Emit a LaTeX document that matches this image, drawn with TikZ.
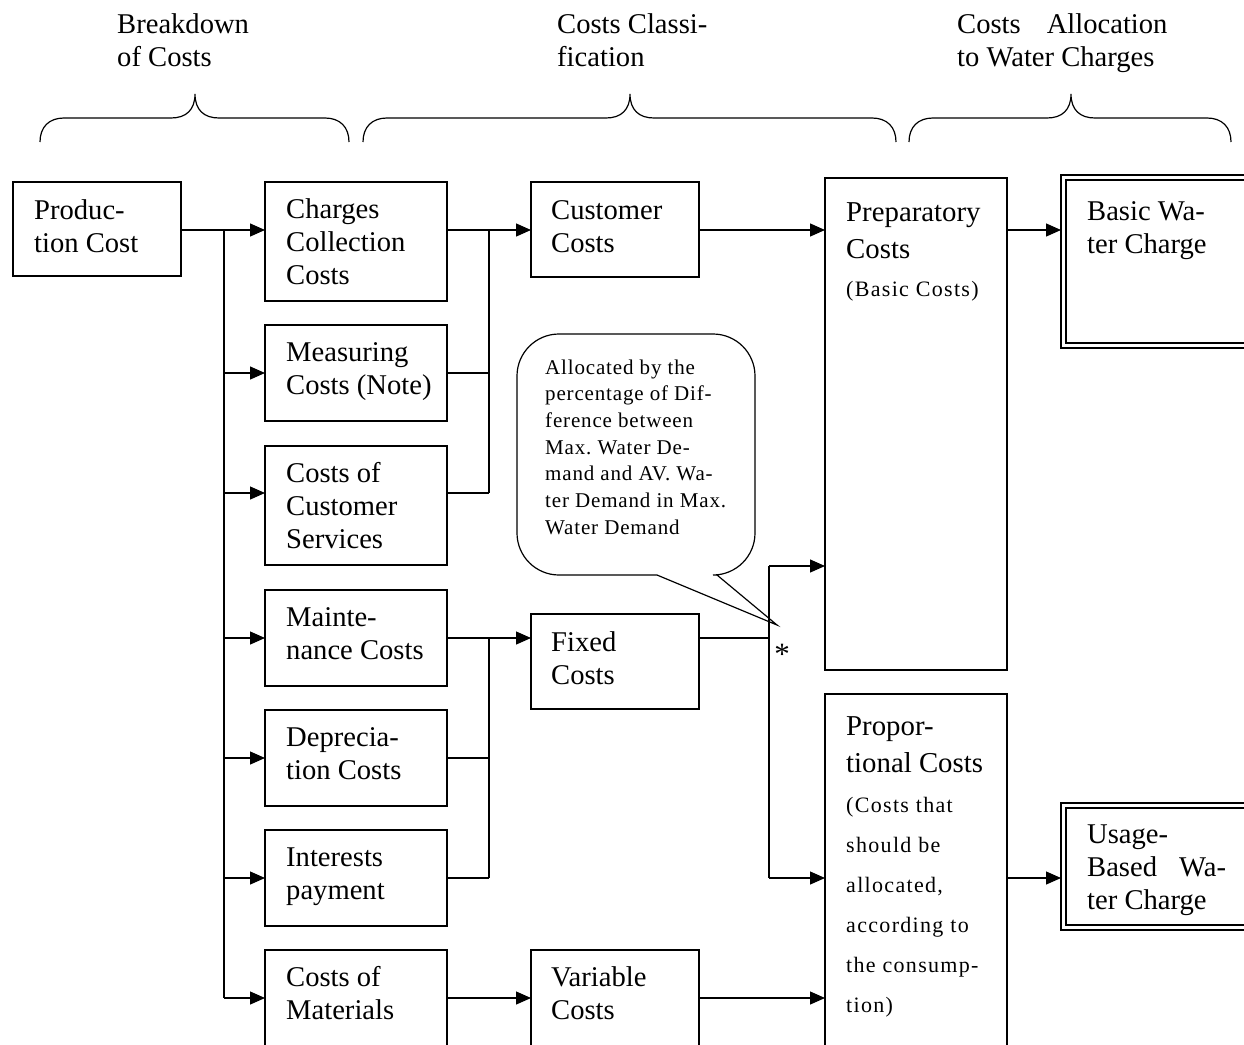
\documentclass[tikz,border=0pt]{standalone}
\usepackage{fontspec}
\setmainfont{Liberation Serif}
\newfontfamily\spacedserif[LetterSpace=6]{Liberation Serif}
\newfontfamily\notefont[LetterSpace=4]{Liberation Serif}
\usetikzlibrary{arrows.meta}
\frenchspacing

% curly brace over a group of columns: left end, tip, right end
\newcommand\costbrace[3]{%
  \draw[bracel] (#1,142) .. controls (#1,127) and (#1+9,118) .. (#1+24,118)
    -- (#2-24,118) .. controls (#2-9,118) and (#2,110) .. (#2,94)
    .. controls (#2,110) and (#2+9,118) .. (#2+24,118)
    -- (#3-24,118) .. controls (#3-9,118) and (#3,127) .. (#3,142);}

% multi-line texts are placed by the baseline of their last line
\tikzset{
  bracel/.style={line width=1.2pt},
  ln/.style={line width=1.3pt},
  arr/.style={line width=1.3pt, -{Triangle[length=15pt,width=13pt]}},
  box/.style={draw, line width=1.3pt, anchor=north west, inner sep=0pt, outer sep=0pt},
  dbox/.style={draw, line width=2.2pt, anchor=north west, inner sep=0pt, outer sep=0pt},
  txt/.style={anchor=base west, align=left, inner sep=0pt,
    font=\fontsize{28.6pt}{33pt}\selectfont},
  tallt/.style={txt, font=\fontsize{28.8pt}{37.5pt}\selectfont},
  smallt/.style={anchor=base west, align=left, inner sep=0pt,
    font=\spacedserif\fontsize{22pt}{40pt}\selectfont},
  notet/.style={anchor=base west, align=left, inner sep=0pt,
    font=\notefont\fontsize{21pt}{26.7pt}\selectfont},
}

\begin{document}
\begin{tikzpicture}[x=1pt,y=-1pt]
\useasboundingbox (0,0) rectangle (1244,1044);
\clip (0,0) rectangle (1244,1044);

% column headings
\node[txt] (h1) at (117,66) {Breakdown\\of Costs};
\node[txt] (h2) at (557,66) {Costs Classi-\\fication};
\node[txt] (h3) at (957,66) {Costs\hspace{26pt}Allocation\\to Water Charges};
\costbrace{40}{195}{349}
\costbrace{363}{630}{896}
\costbrace{909}{1071}{1231}

% boxes
\node[box, minimum width=168pt, minimum height=94pt]  (pc) at (13,182) {};
\node[box, minimum width=182pt, minimum height=119pt] (cc) at (265,182) {};
\node[box, minimum width=182pt, minimum height=96pt]  (mc) at (265,325) {};
\node[box, minimum width=182pt, minimum height=119pt] (cs) at (265,446) {};
\node[box, minimum width=182pt, minimum height=96pt]  (mn) at (265,590) {};
\node[box, minimum width=182pt, minimum height=96pt]  (dp) at (265,710) {};
\node[box, minimum width=182pt, minimum height=96pt]  (ip) at (265,830) {};
\node[box, minimum width=182pt, minimum height=96pt]  (cm) at (265,950) {};
\node[box, minimum width=168pt, minimum height=95pt]  (cu) at (531,182) {};
\node[box, minimum width=168pt, minimum height=95pt]  (fx) at (531,614) {};
\node[box, minimum width=168pt, minimum height=96pt]  (vc) at (531,950) {};
\node[box, minimum width=182pt, minimum height=492pt] (pr) at (825,178) {};
\node[box, minimum width=182pt, minimum height=380pt] (po) at (825,694) {};
\node[dbox, minimum width=200pt, minimum height=173pt] (bw) at (1061,175) {};
\node[dbox, minimum width=200pt, minimum height=127pt] (uw) at (1061,803) {};
\draw[line width=1.1pt] ([shift={(5,5)}]bw.north west) rectangle ([shift={(-5,-5)}]bw.south east);
\draw[line width=1.1pt] ([shift={(5,5)}]uw.north west) rectangle ([shift={(-5,-5)}]uw.south east);

% box texts
\node[txt] (pct) at ([shift={(21,70)}]pc.north west) {Produc-\\tion Cost};
\node[txt] (cct) at ([shift={(21,102)}]cc.north west) {Charges\\Collection\\Costs};
\node[txt] (mct) at ([shift={(21,69)}]mc.north west) {Measuring\\Costs (Note)};
\node[txt] (cst) at ([shift={(21,102)}]cs.north west) {Costs of\\Customer\\Services};
\node[txt] (mnt) at ([shift={(21,69)}]mn.north west) {Mainte-\\nance Costs};
\node[txt] (dpt) at ([shift={(21,69)}]dp.north west) {Deprecia-\\tion Costs};
\node[txt] (ipt) at ([shift={(21,69)}]ip.north west) {Interests\\payment};
\node[txt] (cmt) at ([shift={(21,69)}]cm.north west) {Costs of\\Materials};
\node[txt] (cut) at ([shift={(20,70)}]cu.north west) {Customer\\Costs};
\node[txt] (fxt) at ([shift={(20,70)}]fx.north west) {Fixed\\Costs};
\node[txt] (vct) at ([shift={(20,69)}]vc.north west) {Variable\\Costs};
\node[tallt] (prt) at ([shift={(21,80.5)}]pr.north west) {Preparatory\\Costs};
\node[smallt] (prs) at ([shift={(21,118)}]pr.north west) {(Basic Costs)};
\node[tallt] (pot) at ([shift={(21,78.5)}]po.north west) {Propor-\\tional Costs};
\node[smallt] (pos) at ([shift={(21,318)}]po.north west)
  {(Costs that\\should be\\allocated,\\according to\\the consump-\\tion)};
\node[txt] (bwt) at ([shift={(26,78)}]bw.north west) {Basic Wa-\\ter Charge};
\node[txt] (uwt) at ([shift={(26,106)}]uw.north west) {Usage-\\Based\hspace{22pt}Wa-\\ter Charge};

% breakdown trunk
\coordinate (tr) at (224,230);
\coordinate (trS) at (224,493);
\coordinate (trE) at (224,998);
\draw[arr] (pc.east |- tr) -- (tr -| cc.west);
\draw[ln] (tr) -- (trE);
\draw[arr] (tr |- mc.west) -- (mc.west);
\draw[arr] (trS) -- (trS -| cs.west);
\draw[arr] (tr |- mn.west) -- (mn.west);
\draw[arr] (tr |- dp.west) -- (dp.west);
\draw[arr] (tr |- ip.west) -- (ip.west);
\draw[arr] (trE) -- (trE -| cm.west);

% collectors into the classification column
\coordinate (ka) at (489,230);
\coordinate (kb) at (489,493);
\coordinate (kc) at (489,638);
\coordinate (kd) at (489,878);
\draw[arr] (cc.east |- ka) -- (ka -| cu.west);
\draw[ln] (ka) -- (kb);
\draw[ln] (mc.east) -- (ka |- mc.east);
\draw[ln] (cs.east |- kb) -- (kb);
\draw[arr] (mn.east |- kc) -- (kc -| fx.west);
\draw[ln] (kc) -- (kd);
\draw[ln] (dp.east) -- (kc |- dp.east);
\draw[ln] (ip.east |- kd) -- (kd);
\draw[arr] (cm.east) -- (vc.west);

% split of the fixed costs
\coordinate (ja) at (769,566);
\coordinate (jm) at (769,638);
\coordinate (jb) at (769,878);
\draw[ln] (fx.east |- jm) -- (jm);
\draw[ln] (ja) -- (jb);
\draw[arr] (ja) -- (ja -| pr.west);
\draw[arr] (jb) -- (jb -| po.west);
\node[inner sep=0pt, font=\fontsize{31pt}{31pt}\selectfont] (ast) at (782,654) {*};

\draw[arr] (cu.east |- ka) -- (ka -| pr.west);
\draw[arr] (vc.east) -- (vc.east -| po.west);
\draw[arr] (pr.east |- ka) -- (ka -| bw.west);
\draw[arr] (po.east |- jb) -- (jb -| uw.west);

% note balloon pointing at the split
\coordinate (tip) at (777,625);
\draw[line width=1.2pt] (657,575) [rounded corners=42pt] -- (517,575) -- (517,334)
  -- (755,334) -- (755,575) [sharp corners] -- (717,575) -- (tip) -- cycle;
\node[notet] (note) at (545,534.2) {Allocated by the\\percentage of Dif-\\ference between\\Max. Water De-\\mand and AV. Wa-\\ter Demand in Max.\\Water Demand};
\end{tikzpicture}
\end{document}
